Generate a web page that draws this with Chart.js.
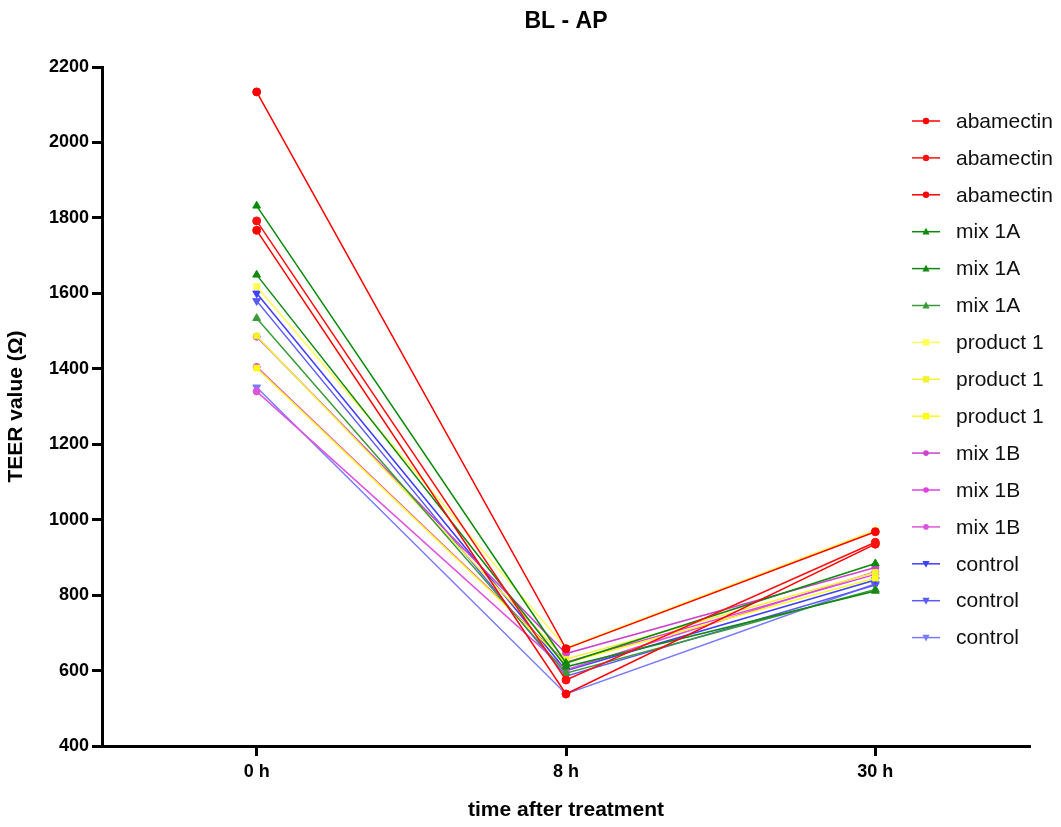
<!DOCTYPE html>
<html>
<head>
<meta charset="utf-8">
<script src="https://cdn.jsdelivr.net/npm/chart.js@4.4.1/dist/chart.umd.min.js"></script>
<style>
    html, body { margin: 0; padding: 0; background: #fff; }
    #wrap { width: 1061px; height: 827px; }
</style>
</head>
<body>
<div id="wrap"><canvas id="teerChart" width="1061" height="827"></canvas></div>
<script>
// time points and tick values
const timeLabels = ['0 h', '8 h', '30 h'];
const yTicks = [400, 600, 800, 1000, 1200, 1400, 1600, 1800, 2000, 2200];

// TEER readings per replicate, one row per well
const abamectin = [[2134, 658, 968], [1792, 575, 940], [1767, 538, 935]];
const mix1A = [[1832, 620, 884], [1649, 610, 811], [1534, 593, 815]];
const product1 = [[1618, 660, 972], [1487, 630, 860], [1402, 620, 845]];
const mix1B = [[1485, 645, 873], [1405, 622, 855], [1340, 602, 862]];
const control = [[1600, 600, 840], [1580, 585, 827], [1351, 538, 830]];

const FONT = 'Arial, "Liberation Sans", sans-serif';

const groups = [
    { name: 'abamectin', rows: abamectin, colors: ['#ff0000', '#ff1010', '#ff0000'], style: 'circle', rot: 0, r: 4 },
    { name: 'mix 1A', rows: mix1A, colors: ['#0a8a0a', '#118811', '#3a9a3a'], style: 'triangle', rot: 0, r: 4.5 },
    { name: 'product 1', rows: product1, colors: ['#ffff55', '#f2f230', '#ffff10'], style: 'rect', rot: 0, r: 4 },
    { name: 'mix 1B', rows: mix1B, colors: ['#cc44cc', '#e040e0', '#dd55dd'], style: 'circle', rot: 0, r: 3.5 },
    { name: 'control', rows: control, colors: ['#3f3fff', '#5a5aff', '#7a7aff'], style: 'triangle', rot: 180, r: 4.5 }
];

const datasets = [];
groups.forEach(function(g) {
    g.rows.forEach(function(row, i) {
        datasets.push({
            label: g.name,
            data: row,
            borderColor: g.colors[i],
            backgroundColor: g.colors[i],
            borderWidth: 1.5,
            pointStyle: g.style,
            pointRotation: g.rot,
            pointRadius: g.r,
            pointBorderWidth: 1,
            tension: 0
        });
    });
});

function drawMarker(ctx, style, rot, r, x, y, color) {
    ctx.save();
    ctx.fillStyle = color;
    ctx.translate(x, y);
    ctx.rotate(rot * Math.PI / 180);
    ctx.beginPath();
    if (style === 'circle') {
        ctx.arc(0, 0, r, 0, Math.PI * 2);
    } else if (style === 'rect') {
        ctx.rect(-r, -r, 2 * r, 2 * r);
    } else {
        ctx.moveTo(0, -r * 1.1);
        ctx.lineTo(r, r * 0.8);
        ctx.lineTo(-r, r * 0.8);
        ctx.closePath();
    }
    ctx.fill();
    ctx.restore();
}

// title and right-hand legend drawn straight onto the canvas
const extras = {
    id: 'extras',
    afterDraw(chart) {
        const ctx = chart.ctx;
        const area = chart.chartArea;
        ctx.save();
        ctx.fillStyle = '#000';
        ctx.font = 'bold 23px ' + FONT;
        ctx.textAlign = 'center';
        ctx.textBaseline = 'middle';
        ctx.fillText('BL - AP', (area.left + area.right) / 2, 22);

        ctx.font = '21px ' + FONT;
        ctx.textAlign = 'left';
        let y = 121;
        chart.data.datasets.forEach(function(ds) {
            ctx.strokeStyle = ds.borderColor;
            ctx.lineWidth = 1.5;
            ctx.beginPath();
            ctx.moveTo(912, y);
            ctx.lineTo(940, y);
            ctx.stroke();
            drawMarker(ctx, ds.pointStyle, ds.pointRotation, ds.pointRadius * 0.8, 926, y, ds.borderColor);
            ctx.fillStyle = '#111';
            ctx.fillText(ds.label, 956, y + 1);
            y += 36.9;
        });
        ctx.restore();
    }
};

new Chart(document.getElementById('teerChart'), {
    type: 'line',
    data: { labels: timeLabels, datasets: datasets },
    options: {
        responsive: false,
        animation: false,
        layout: { padding: { top: 67, right: 31, left: 0, bottom: 0 } },
        plugins: {
            legend: { display: false },
            title: { display: false },
            tooltip: { enabled: false }
        },
        scales: {
            x: {
                offset: true,
                grid: { display: true, drawOnChartArea: false, tickLength: 10, tickWidth: 3, tickColor: '#000', offset: false },
                border: { display: true, width: 3, color: '#000' },
                ticks: { color: '#000', font: { size: 18, weight: 'bold', family: FONT }, padding: 5 },
                title: { display: true, text: 'time after treatment', color: '#000', font: { size: 21, weight: 'bold', family: FONT }, padding: { top: 12 } },
                afterFit: function(scale) { scale.height = 81; }
            },
            y: {
                min: 400,
                max: 2200,
                afterBuildTicks: function(scale) { scale.ticks = yTicks.map(v => ({ value: v })); },
                grid: { display: true, drawOnChartArea: false, tickLength: 10, tickWidth: 3, tickColor: '#000' },
                border: { display: true, width: 3, color: '#000' },
                ticks: {
                    color: '#000',
                    font: { size: 18, weight: 'bold', family: FONT },
                    padding: 3,
                    callback: function(value) { return String(value); }
                },
                title: { display: true, text: 'TEER value (Ω)', color: '#000', font: { size: 21, weight: 'bold', family: FONT }, padding: { bottom: 0 } },
                afterFit: function(scale) { scale.width = 102; }
            }
        }
    },
    plugins: [extras]
});
</script>
</body>
</html>
